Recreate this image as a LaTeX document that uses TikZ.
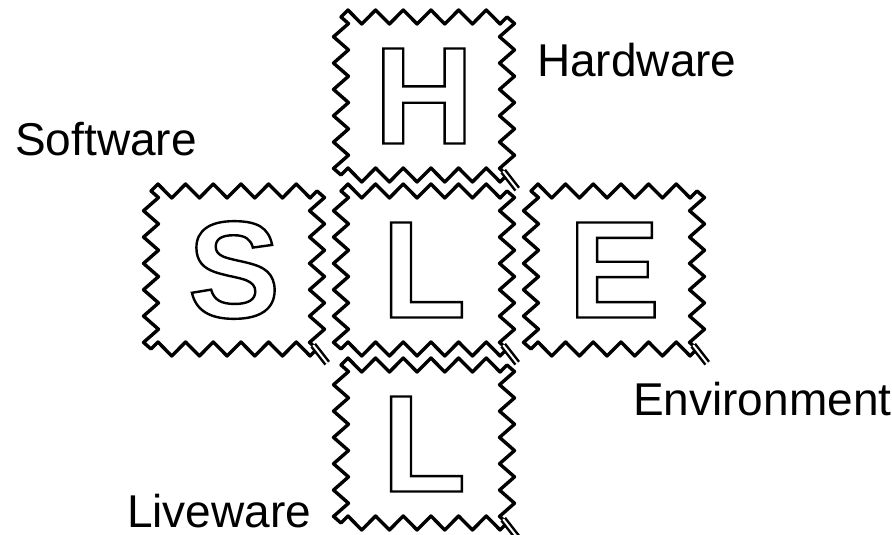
\documentclass[tikz,border=0pt]{standalone}
\usepackage{fontspec}
\setmainfont{Liberation Sans}
\usetikzlibrary{positioning}

% hollow letters: stroke the glyph outline only
\newcommand{\outlined}[1]{{\special{pdf:literal direct 1 Tr 2.4 w}#1\special{pdf:literal direct 0 Tr}}}

\begin{document}
\begin{tikzpicture}[
        x=1pt, y=1pt,
        node distance=190pt,
        tile/.style={rectangle, minimum width=166pt, minimum height=158pt,
            font=\fontsize{138}{140}\selectfont\bfseries},
        border/.style={draw, line width=3.4pt, line join=round},
        label/.style={anchor=base west, inner sep=0pt, font=\fontsize{46}{50}\selectfont},
        tick/.style={draw, double, double distance=2pt, line width=2.5pt}
    ]
        \useasboundingbox (0,0) rectangle (892,-535);

        % SHELL tiles
        \node [tile] (live) at (424,-270) {\outlined{L}};
        \node [tile, above of=live, node distance=174pt] (hard) {\outlined{H}};
        \node [tile, left of=live] (soft) {\outlined{S}};
        \node [tile, right of=live] (env) {\outlined{E}};
        \node [tile, below of=live, node distance=174pt] (live2) {\outlined{L}};

        % zigzag borders (6 teeth a side) and corner ticks
        \foreach \t in {hard, soft, live, env, live2} {
            \begin{scope}[shift={(\t.center)}]
                \path [border] (-83,79)
                    \foreach \i in {1,...,6} { -- ++(6.92,7) -- ++(13.83,-14) -- ++(6.92,7) }
                    \foreach \i in {1,...,6} { -- ++(7.5,-6.58) -- ++(-15,-13.17) -- ++(7.5,-6.58) }
                    \foreach \i in {1,...,6} { -- ++(-6.92,-7) -- ++(-13.83,14) -- ++(-6.92,-7) }
                    \foreach \i in {1,...,6} { -- ++(-7.5,6.58) -- ++(15,13.17) -- ++(-7.5,6.58) }
                    -- cycle;
            \end{scope}
            \path [tick] (\t.south east) ++(-4pt,4pt) -- ++(14pt,-18pt);
        }

        % labels
        \node [label] (hardlbl) at (537,-77) {Hardware};
        \node [label] (softlbl) at (15,-155) {Software};
        \node [label] (envlbl) at (633,-415) {Environment};
        \node [label] (livelbl) at (127,-527) {Liveware};
    \end{tikzpicture}
\end{document}
